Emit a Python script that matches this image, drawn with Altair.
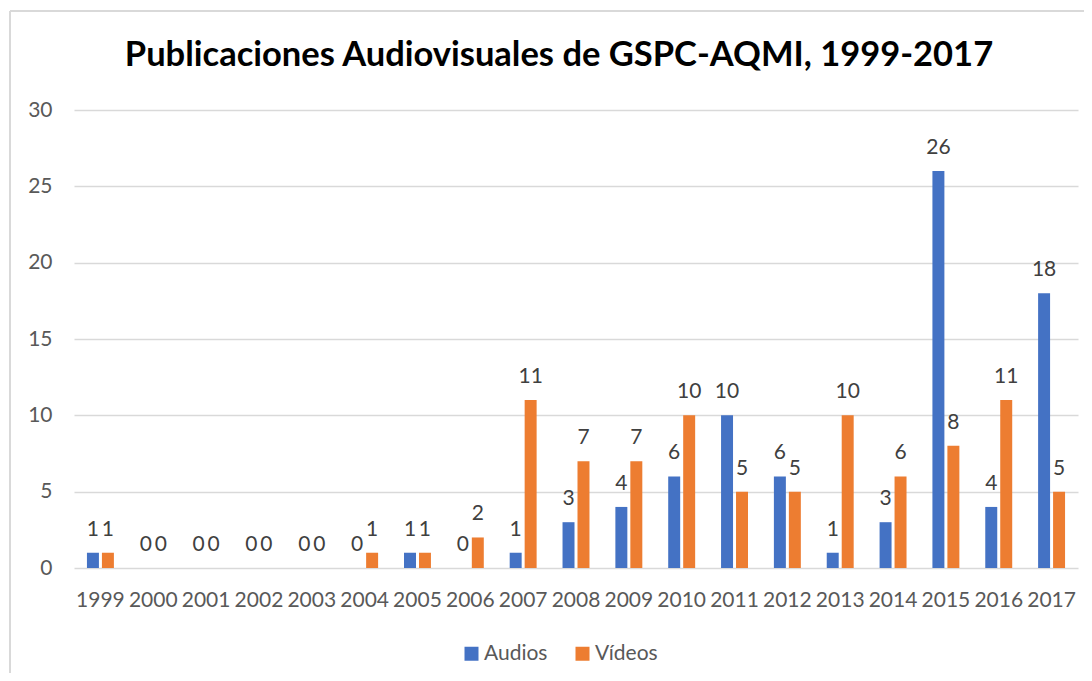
import altair as alt
import pandas as pd

years = [str(y) for y in range(1999, 2018)]
audios = [1, 0, 0, 0, 0, 0, 1, 0, 1, 3, 4, 6, 10, 6, 1, 3, 26, 4, 18]
videos = [1, 0, 0, 0, 0, 1, 1, 2, 11, 7, 7, 10, 5, 5, 10, 6, 8, 11, 5]
series = ["Audios", "Vídeos"]
colors = ["#4472C4", "#ED7D31"]
title_text = "Publicaciones Audiovisuales de GSPC-AQMI, 1999-2017"

rows = []
for i, y in enumerate(years):
    rows.append({"year": y, "serie": series[0], "valor": audios[i]})
    rows.append({"year": y, "serie": series[1], "valor": videos[i]})
df = pd.DataFrame(rows)

FONT = "Lato"
AXIS_COLOR = "#595959"
FS = 21

x_enc = alt.X("year:N", sort=years, title=None,
              scale=alt.Scale(paddingInner=0.49, paddingOuter=0.245),
              axis=alt.Axis(labelAngle=0, labelFont=FONT, labelFontSize=FS,
                            labelColor=AXIS_COLOR, labelPadding=21,
                            domain=False, ticks=False, grid=False))
xoff_enc = alt.XOffset("serie:N", sort=series,
                       scale=alt.Scale(paddingInner=0.2, paddingOuter=0))
y_enc = alt.Y("valor:Q", title=None,
              scale=alt.Scale(domain=[0, 30], nice=False),
              axis=alt.Axis(values=[0, 5, 10, 15, 20, 25, 30], labelFont=FONT,
                            labelFontSize=FS, labelColor=AXIS_COLOR,
                            labelPadding=22, domain=False, ticks=False,
                            gridColor="#D9D9D9", gridWidth=1.5))

base = alt.Chart(df)

bars = base.mark_bar().encode(
    x=x_enc,
    xOffset=xoff_enc,
    y=y_enc,
    color=alt.Color("serie:N", sort=series,
                    scale=alt.Scale(domain=series, range=colors),
                    legend=alt.Legend(title=None, orient="none",
                                      direction="horizontal",
                                      legendX=387, legendY=533,
                                      symbolType="square", symbolSize=196,
                                      symbolStrokeWidth=0, labelFont=FONT,
                                      labelFontSize=FS, labelColor=AXIS_COLOR,
                                      labelOffset=2, columnPadding=24)),
)

labels = base.mark_text(font=FONT, fontSize=FS, color="#404040",
                        baseline="alphabetic", dy=-17).encode(
    x=alt.X("year:N", sort=years),
    xOffset=alt.XOffset("serie:N", sort=series),
    y=alt.Y("valor:Q"),
    text=alt.Text("valor:Q"),
)

frame_data = alt.Data(values=[{"k": 1}])
frame_left = alt.Chart(frame_data).mark_rule(color="#D9D9D9", strokeWidth=2).encode(
    x=alt.value(-64), y=alt.value(-99), y2=alt.value(600))
frame_top = alt.Chart(frame_data).mark_rule(color="#D9D9D9", strokeWidth=2).encode(
    x=alt.value(-64), x2=alt.value(1100), y=alt.value(-99))
title_mark = alt.Chart(alt.Data(values=[{"t": title_text}])).mark_text(
    font=FONT, fontSize=34.5, fontWeight="bold", color="#000000",
    align="center", baseline="alphabetic").encode(
    x=alt.value(485), y=alt.value(-44), text=alt.Text("t:N"))

chart = alt.layer(frame_left, frame_top, title_mark, bars, labels).properties(
    width=1004, height=458,
    padding={"left": 66, "top": 102, "right": 6, "bottom": 105},
    autosize=alt.AutoSizeParams(type="none"),
).configure_view(stroke=None)

chart.save("out.html", embed_options={"renderer": "svg", "actions": False})
